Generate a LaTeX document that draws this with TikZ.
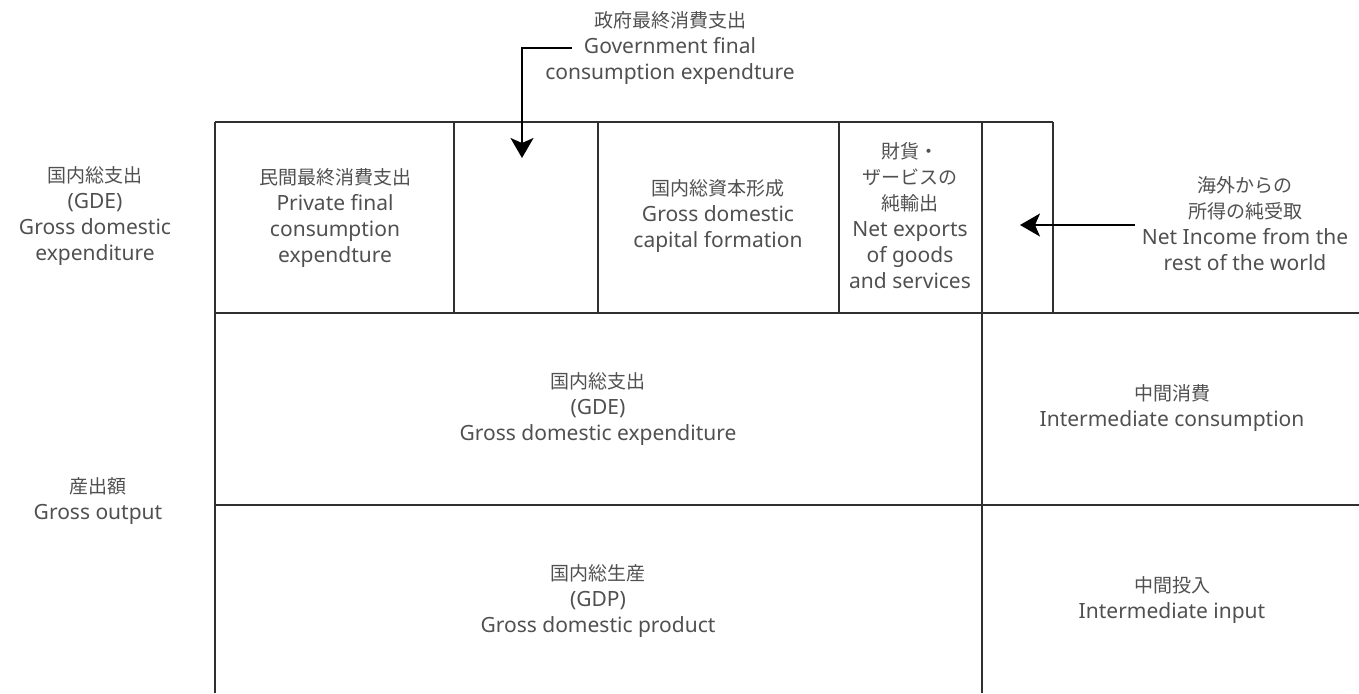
\documentclass[tikz,border=0pt]{standalone}
\usepackage{fontspec}
\setmainfont{Noto Sans}
\newfontfamily\jpfont{Noto Sans CJK JP}
\usetikzlibrary{arrows.meta}
\definecolor{txtgray}{HTML}{505050}
\definecolor{linegray}{HTML}{303030}
\newcommand{\jtxt}[1]{{\jpfont\fontsize{19}{26}\selectfont #1}}
\begin{document}
\begin{tikzpicture}[x=1pt,y=-1pt,
  lbl/.style={align=center, text=txtgray, font=\fontsize{21}{26}\selectfont, inner sep=0pt},
  gridline/.style={draw=linegray, line width=1.6pt},
  arr/.style={draw=black, line width=1.6pt, -{Stealth[length=20pt,width=23pt,inset=5pt]}}]
\useasboundingbox (0,0) rectangle (1359,693);
% grid
\draw[gridline] (215,122) -- (1053,122);
\draw[gridline] (215,313) -- (1359,313);
\draw[gridline] (215,505) -- (1359,505);
\draw[gridline] (215,122) -- (215,693);
\draw[gridline] (454,122) -- (454,313);
\draw[gridline] (598,122) -- (598,313);
\draw[gridline] (839,122) -- (839,313);
\draw[gridline] (982,122) -- (982,693);
\draw[gridline] (1053,122) -- (1053,313);
% labels
\node[lbl] (gov) at (670,48) {\jtxt{政府最終消費支出}\\Government final\\consumption expendture};
\node[lbl] (gdeleft) at (95,216) {\jtxt{国内総支出}\\(GDE)\\Gross domestic\\expenditure};
\node[lbl] (pfce) at (335,218) {\jtxt{民間最終消費支出}\\Private final\\consumption\\expendture};
\node[lbl] (gdcf) at (718,216) {\jtxt{国内総資本形成}\\Gross domestic\\capital formation};
\node[lbl] (nx) at (910,216) {\jtxt{財貨・}\\\jtxt{ザービスの}\\\jtxt{純輸出}\\Net exports\\of goods\\and services};
\node[lbl] (ni) at (1245,224) {\jtxt{海外からの}\\\jtxt{所得の純受取}\\Net Income from the\\rest of the world};
\node[lbl] (gdemid) at (598,409) {\jtxt{国内総支出}\\(GDE)\\Gross domestic expenditure};
\node[lbl] (ic) at (1172,408) {\jtxt{中間消費}\\Intermediate consumption};
\node[lbl] (go) at (98,501) {\jtxt{産出額}\\Gross output};
\node[lbl] (gdp) at (598,601) {\jtxt{国内総生産}\\(GDP)\\Gross domestic product};
\node[lbl] (ii) at (1172,600) {\jtxt{中間投入}\\Intermediate input};
% arrows
\coordinate (govstart) at (572,48);
\coordinate (govtip) at (522,158);
\coordinate (nistart) at (1135,225);
\coordinate (nitip) at (1020,225);
\draw[arr] (govstart) -| (govtip);
\draw[arr] (nistart) -- (nitip);
\end{tikzpicture}
\end{document}
